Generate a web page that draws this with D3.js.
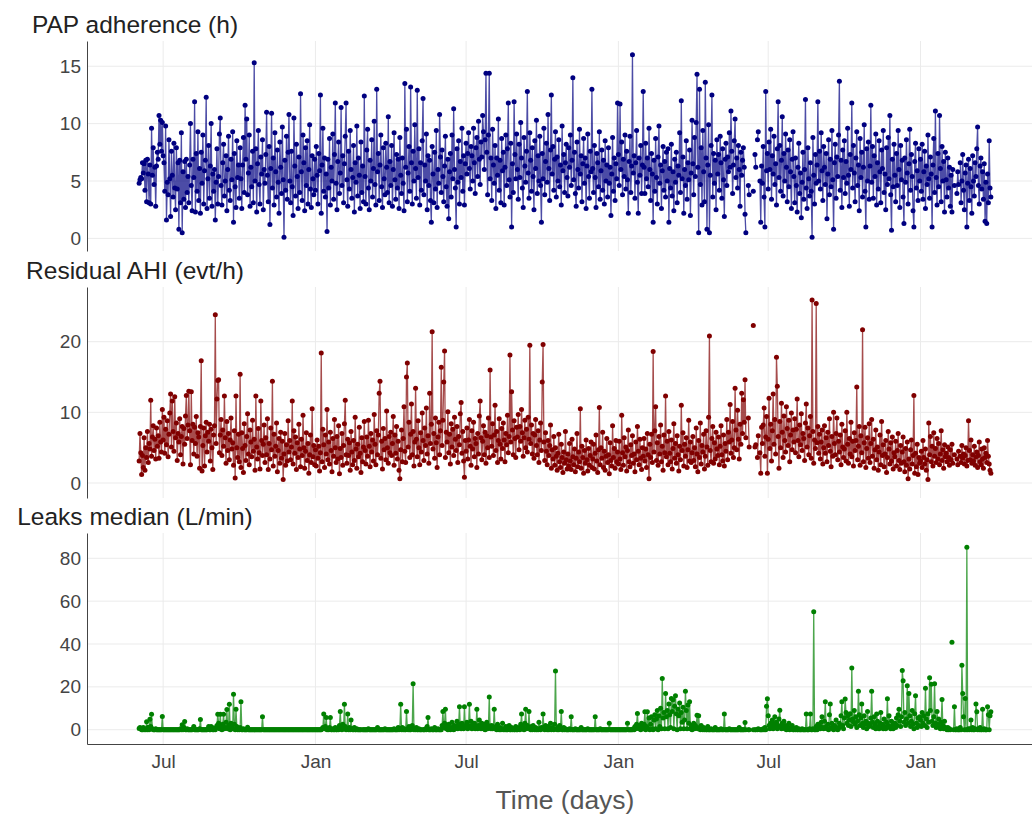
<!DOCTYPE html>
<html>
<head>
<meta charset="utf-8">
<script src="https://cdn.jsdelivr.net/npm/d3@7"></script>
<style>
  body { margin: 0; background: #fff; }
  svg { display: block; font-family: "Liberation Sans", Arial, sans-serif; }
</style>
</head>
<body>
<svg id="chart" width="1032" height="816"></svg>
<script>
// one row of daily values per month; first month starts on the 2nd
const months = ["2019-06","2019-07","2019-08","2019-09","2019-10","2019-11","2019-12",
  "2020-01","2020-02","2020-03","2020-04","2020-05","2020-06","2020-07","2020-08","2020-09","2020-10","2020-11","2020-12",
  "2021-01","2021-02","2021-03","2021-04","2021-05","2021-06","2021-07","2021-08","2021-09","2021-10","2021-11","2021-12",
  "2022-01","2022-02","2022-03"];
const firstDay = 2;

const adherence = [
  [4.8,5.1,5.3,5.2,6.6,5.7,6.5,4.2,6.8,3.2,6.9,5.6,3.1,6.4,3.0,9.6,5.5,7.9,4.7,6.2,2.8,6.3,7.5,6.9,10.7,8.2,10.3,7.6,10.1],
  [7.2,6.6,4.1,9.8,1.6,4.9,3.8,8.6,5.2,1.9,7.6,5.5,3.6,8.3,4.4,2.5,7.9,4.3,6.6,0.8,6.8,3.1,9.2,0.5,5.8,3.4,6.7,2.7,6.9,4.0,5.4],
  [3.1,6.4,10.0,4.6,2.4,6.9,5.3,11.9,2.3,7.4,4.1,9.3,3.3,6.1,2.2,7.5,4.8,9.0,3.0,5.9,6.8,12.3,2.6,5.2,8.1,3.5,6.3,10.0,2.8,5.6,4.1],
  [6.0,1.6,4.9,7.8,3.0,5.4,9.1,10.5,4.6,2.9,6.6,8.2,3.7,5.0,7.2,2.4,6.0,8.9,4.2,3.3,6.9,5.1,9.3,1.4,7.4,4.5,2.7,8.5,5.3,6.4],
  [3.5,7.9,5.2,2.6,6.4,8.8,4.0,11.6,6.9,10.4,3.8,5.7,9.0,2.8,6.2,4.5,7.6,3.1,15.3,5.0,7.8,2.3,6.5,9.4,4.7,3.0,7.1,5.6,8.6,2.5,6.0],
  [4.8,7.3,11.0,5.5,3.2,8.0,1.2,6.1,10.9,4.4,7.0,2.9,9.2,5.8,3.6,7.7,4.9,2.2,8.4,6.2,3.9,9.7,5.1,0.1,6.8,4.2,8.9,3.4,7.5,10.8],
  [5.0,3.1,7.6,4.5,2.0,10.5,6.3,3.7,8.2,5.4,2.6,7.1,4.0,12.6,5.8,3.3,9.0,6.6,2.4,7.9,4.6,8.5,3.0,6.0,9.9,4.3,2.7,7.2,5.2,3.8,6.9],
  [4.2,8.0,5.5,3.0,7.4,5.9,12.5,2.2,6.4,9.6,4.1,7.0,3.6,5.6,0.6,6.9,4.4,8.7,2.9,6.2,5.0,9.1,3.4,7.3,11.8,4.8,2.5,6.7,8.4,3.9,5.7],
  [11.4,4.6,7.2,3.1,6.5,8.9,11.8,5.1,2.8,7.6,4.3,9.4,6.0,3.5,5.3,8.1,2.3,6.6,4.9,9.8,3.7,7.0,5.5,2.6,8.4,4.0,6.3,3.2,12.4],
  [5.4,3.0,7.7,9.5,4.4,2.5,6.8,5.0,8.6,3.6,6.1,10.2,4.7,2.9,13.0,5.8,7.4,3.3,6.4,9.0,4.5,2.7,7.9,5.2,3.8,8.3,6.2,4.0,10.6,3.1,6.7],
  [4.6,8.1,2.8,6.0,9.2,5.1,3.4,7.3,4.4,6.9,2.6,8.8,5.5,3.9,7.0,4.8,2.4,13.5,6.2,9.5,3.2,5.7,8.0,4.1,13.2,6.6,3.0,7.6,5.0,9.9],
  [6.1,3.5,12.9,5.3,7.8,2.9,6.6,4.2,8.5,12.2,3.8,6.4,5.0,9.1,2.5,7.2,4.6,6.8,3.3,1.4,8.0,5.6,3.1,7.5,4.3,9.4,2.7,6.0,4.8,10.8,7.1],
  [4.0,7.7,5.4,3.2,6.3,8.9,4.5,2.8,6.9,1.7,5.8,7.4,3.6,9.0,5.2,11.3,6.0,4.4,1.0,7.8,4.9,8.5,3.0,6.7,5.3,9.6,4.1,7.2,2.9,6.5],
  [8.3,5.6,7.4,9.2,6.1,4.3,8.0,7.2,5.0,9.6,6.6,3.9,7.9,8.8,5.4,10.2,6.9,4.7,8.4,7.1,10.7,9.3,6.0,8.6,14.4,7.5,3.8,9.0,14.4,5.2,7.0],
  [3.3,9.5,6.4,4.8,8.1,2.6,7.0,5.5,10.4,4.2,6.8,3.1,8.7,5.9,7.5,2.9,6.2,9.0,4.6,7.8,11.8,5.1,3.6,8.3,1.0,6.5,4.0,11.9,7.3,5.2,9.1],
  [6.0,3.4,8.2,5.3,10.1,7.0,4.4,2.7,8.8,6.3,4.9,7.6,12.8,5.7,3.5,9.2,6.8,4.1,7.9,5.4,2.5,8.5,6.1,10.3,3.9,7.2,5.0,8.9,4.6,1.4],
  [7.4,5.2,9.6,3.8,6.7,8.3,4.9,10.8,6.1,3.3,7.7,12.5,5.6,8.0,4.2,6.9,9.3,3.6,7.1,5.0,8.6,4.5,6.4,2.9,9.8,5.9,7.3,4.0,6.6,8.2,5.3],
  [3.7,7.9,6.2,9.0,4.6,6.8,14.0,5.1,7.5,3.9,2.8,8.4,6.0,4.4,9.5,5.6,7.2,3.2,6.5,8.7,4.8,7.0,2.6,6.3,9.1,5.4,3.5,7.6,5.8,13.0],
  [6.1,4.0,8.1,5.3,2.7,7.4,6.6,4.5,9.3,3.4,5.9,7.7,4.2,6.8,3.0,8.5,5.0,6.4,3.6,7.9,4.8,6.2,2.0,5.6,8.8,4.1,7.0,3.3,6.5,5.2,11.8],
  [7.3,4.6,11.7,6.0,8.4,3.8,6.9,5.4,9.0,4.3,7.6,5.1,2.2,6.7,8.9,4.0,6.3,16.0,5.7,7.2,3.5,6.6,9.4,4.9,2.2,7.0,5.5,8.1,3.9,6.4,12.8],
  [6.2,3.9,8.3,5.2,7.0,4.5,9.6,6.0,3.3,7.4,5.6,1.4,6.8,4.1,8.7,5.3,3.0,7.1,9.8,4.8,6.4,2.6,5.9,8.0,4.2,6.7,3.6,7.5],
  [5.0,7.8,1.4,6.1,4.4,8.2,3.7,5.8,2.4,6.9,4.9,7.5,3.1,6.3,5.5,9.2,4.0,12.0,5.2,7.1,2.2,6.0,4.6,8.5,3.4,6.6,5.1,7.7,2.0,5.7,10.3],
  [6.5,3.8,8.8,5.4,10.1,14.3,6.2,0.5,13.0,4.7,7.9,2.9,9.4,5.8,3.2,13.6,7.0,0.8,6.4,9.9,0.5,5.5,8.1,12.5,3.6,7.4,4.8,6.8,2.5,8.6],
  [5.6,7.3,4.2,8.9,6.6,3.5,7.8,5.1,1.9,6.9,8.3,4.6,7.1,5.8,9.2,6.2,11.1,7.6,3.9,6.4,8.5,10.4,5.3,7.0,4.4,8.1,6.0,2.8,7.5,5.5,6.8],
  [7.9,6.2,2.1,0.5,null,null,4.6,3.8,null,null,null,null,4.1,null,7.3,6.2,null,8.6,9.3,null,5.0,1.4,6.3,4.8,8.0,3.6,1.0,12.8,5.9,7.4],
  [4.3,8.4,6.0,9.5,3.4,7.2,5.6,8.9,4.7,6.5,2.9,7.8,11.9,5.3,8.1,4.1,6.8,10.6,3.7,7.4,5.0,9.1,6.2,3.2,7.7,4.5,8.6,5.8,2.6,6.9,9.3],
  [5.4,3.1,7.0,4.6,2.3,6.2,8.3,3.9,5.7,1.8,4.9,7.5,3.4,6.0,12.1,4.4,2.6,7.9,5.2,3.7,6.6,4.1,0.1,8.8,5.5,3.0,7.3,4.8,6.4,11.9,5.0],
  [7.6,4.3,9.2,5.9,3.3,8.0,6.2,4.7,7.4,1.7,5.6,8.6,3.8,6.9,4.5,9.4,5.1,0.8,6.6,8.2,3.5,7.1,5.4,9.0,13.7,4.2,6.8,2.7,7.7,5.3],
  [8.5,3.9,6.7,4.8,9.6,5.5,2.8,7.3,6.0,11.8,4.4,8.1,5.7,3.2,7.0,9.3,4.6,6.4,2.4,8.7,5.3,7.5,3.6,6.2,9.9,4.1,1.0,7.8,5.0,8.4,3.4],
  [6.3,11.6,4.9,8.0,3.5,7.2,5.4,9.1,2.9,6.6,4.3,8.5,5.8,3.1,7.7,6.1,9.4,4.0,5.6,2.5,7.9,4.7,8.8,5.2,10.7,3.8,0.7,6.9,4.5,8.2],
  [5.5,3.2,7.4,4.6,9.4,6.0,2.7,8.1,5.1,6.8,3.6,1.3,7.0,4.9,8.6,5.7,3.0,6.5,9.5,4.2,7.3,5.4,2.4,1.0,6.7,8.3,4.4,5.9,3.3,7.8,5.0],
  [6.9,4.1,8.2,3.4,5.8,7.6,2.6,6.3,4.7,9.0,5.2,3.5,7.1,5.6,1.0,6.4,8.7,4.0,11.1,5.3,2.9,7.4,4.5,10.7,6.1,3.2,8.0,5.0,6.7,2.3,7.5],
  [5.1,3.6,7.0,4.4,6.2,2.8,5.5,2.3,6.0,null,4.6,null,null,3.9,5.8,4.7,null,6.6,3.1,5.0,7.3,4.2,2.5,5.7,6.4,1.0,4.8,6.9],
  [3.3,6.1,4.5,2.2,7.2,5.0,3.7,6.6,5.4,7.8,9.7,4.6,3.0,6.3,7.0,4.3,5.8,3.4,6.5,1.5,4.9,1.3,5.6,3.1,8.5,4.4,3.6]
];

const ahi = [
  [3.1,7.0,4.3,1.2,3.9,2.2,6.4,1.8,5.0,3.6,7.3,2.9,5.6,4.8,11.7,3.8,6.5,8.1,4.6,6.2,3.4,7.8,5.2,6.7,3.5,8.6,5.8,4.4,10.4],
  [6.1,9.3,4.2,7.6,5.4,8.8,3.7,6.9,9.9,12.6,5.1,11.6,7.3,4.5,12.2,6.4,8.5,3.2,7.0,5.8,9.1,4.0,6.6,8.0,2.7,7.7,5.5,9.5,12.4,6.3,8.2],
  [13.0,7.4,2.6,12.9,6.0,8.3,4.1,7.9,5.6,9.4,3.8,7.1,6.5,2.1,8.0,17.3,1.7,5.3,7.8,2.4,6.7,8.6,4.4,7.2,5.9,8.3,3.1,7.6,5.0,1.9,6.8],
  [8.1,23.8,5.6,11.9,14.5,14.6,4.3,6.8,9.0,3.9,7.5,5.2,12.3,6.4,2.8,8.7,4.6,7.0,3.3,6.1,9.2,4.8,5.7,2.5,7.4,0.7,12.3,5.0,3.6,6.9],
  [3.0,15.4,2.2,7.1,4.9,1.5,8.4,5.3,3.2,6.6,9.8,4.1,2.6,7.5,5.8,3.7,8.9,4.5,6.2,1.8,12.3,5.1,3.4,7.7,4.3,2.0,11.6,6.0,3.9,5.5,8.2],
  [2.9,6.4,4.0,9.1,1.9,5.6,3.4,7.8,4.7,14.4,2.4,6.9,3.8,5.2,8.5,1.6,4.6,6.3,2.8,7.2,3.5,5.9,0.5,4.1,7.0,2.5,5.4,3.1,8.8,4.4],
  [6.0,3.3,5.1,11.6,2.7,7.4,4.2,6.5,1.9,5.7,3.6,8.3,4.8,2.3,6.2,3.9,9.6,5.0,2.1,4.5,7.1,3.2,5.6,1.4,4.0,6.8,2.9,10.5,3.7,5.3,2.6],
  [4.7,2.4,6.1,3.5,5.2,1.7,4.3,18.4,3.0,7.6,5.4,2.2,6.8,4.1,10.4,3.3,5.8,2.7,7.2,4.6,1.6,6.3,3.8,9.0,5.0,2.9,6.6,3.4,8.1,1.3,4.9],
  [3.6,7.0,2.5,5.3,8.4,11.7,4.0,2.8,6.2,3.9,5.7,1.8,7.3,4.4,2.6,6.0,3.2,9.3,4.8,2.1,5.5,3.7,7.9,4.2,1.5,6.4,3.0,5.1,8.7],
  [4.6,2.7,6.5,3.8,8.9,5.2,2.3,7.0,4.4,6.1,3.1,9.7,5.5,2.6,7.4,4.0,6.8,12.7,14.4,3.5,5.9,2.0,7.7,4.7,6.3,3.3,10.2,5.0,2.8,6.6,4.3],
  [7.2,3.9,5.6,9.4,2.5,6.8,4.2,8.0,3.4,5.9,1.8,0.6,4.7,7.5,3.0,6.3,10.8,4.5,2.9,15.0,17.0,5.1,8.6,3.6,6.9,11.2,4.0,7.3,2.4,5.8],
  [13.4,6.2,3.7,8.8,5.0,2.6,7.1,4.4,9.9,6.0,3.2,7.8,5.3,10.6,4.1,6.7,2.8,12.7,5.6,8.3,21.4,4.8,7.0,3.5,9.2,5.7,2.2,6.5,8.6,4.0,7.4],
  [16.4,5.3,8.9,14.3,18.7,3.6,7.2,5.8,10.1,4.3,6.9,2.7,8.4,5.1,7.6,3.9,9.3,6.2,4.6,8.0,2.9,6.6,5.4,9.8,11.4,4.2,7.3,3.1,0.8,6.0],
  [4.5,7.8,3.4,6.1,9.0,5.2,2.5,7.4,4.8,8.6,3.7,6.3,5.6,2.2,7.0,4.1,9.5,11.6,6.4,3.3,5.9,8.1,4.0,7.2,2.8,6.7,5.0,9.2,3.6,16.0,6.5],
  [5.2,8.4,3.9,6.8,11.0,4.6,7.3,2.9,6.0,9.1,5.5,3.4,7.7,4.9,8.5,6.1,3.0,7.0,5.4,9.6,4.3,6.6,18.1,5.8,12.9,7.5,4.0,8.8,6.3,3.6,7.9],
  [6.5,9.7,4.7,8.0,5.9,10.4,7.1,3.8,6.4,8.9,5.0,7.6,4.4,9.3,6.2,19.5,5.6,8.2,4.1,7.0,3.5,6.8,9.0,5.3,4.0,7.4,2.9,6.1,8.5,4.6],
  [14.3,19.6,5.8,3.2,7.1,4.5,2.6,6.0,3.9,5.3,8.2,2.1,4.7,3.4,6.6,2.5,5.0,3.8,1.8,4.2,6.9,3.0,2.2,5.5,3.6,1.5,4.4,2.8,7.3,3.3,2.0],
  [4.1,2.4,5.6,3.1,1.9,6.2,3.7,2.6,4.8,1.6,3.5,7.0,2.3,4.4,3.0,10.5,2.1,5.2,3.6,1.4,4.6,2.8,6.1,3.3,1.7,4.9,2.5,3.9,5.8,2.2],
  [3.4,5.5,2.0,4.2,6.8,3.1,1.5,4.7,10.7,2.6,5.0,3.5,7.2,2.2,4.5,1.8,3.8,6.3,2.9,4.0,1.3,5.7,3.2,2.4,8.1,3.6,4.9,2.1,6.0,3.0,4.4],
  [2.7,5.9,3.4,1.9,9.6,4.3,2.5,6.4,3.7,5.1,1.7,4.6,7.5,3.0,2.3,5.4,3.9,6.7,2.8,4.1,1.6,5.8,3.3,8.0,4.5,2.6,6.2,3.5,1.9,5.0,3.8],
  [6.3,3.1,4.8,2.2,7.0,4.0,0.6,5.5,3.6,6.9,2.9,18.6,4.4,7.4,10.8,3.2,5.7,2.5,6.6,4.1,8.2,3.0,5.2,1.8,6.8,4.3,12.3,3.7],
  [5.9,2.6,7.3,4.2,3.0,6.1,2.0,4.9,8.4,3.5,5.6,2.8,6.7,4.0,1.7,5.2,3.3,11.0,4.6,7.1,2.4,5.5,3.8,6.4,2.2,4.7,8.9,3.1,5.8,2.9,4.3],
  [6.6,3.2,5.0,2.3,7.8,4.1,1.6,6.0,3.6,8.5,2.7,5.3,4.4,6.9,2.0,3.8,7.4,5.1,2.5,9.3,20.8,4.6,3.0,6.3,8.0,2.8,5.7,3.4,7.2,4.8],
  [3.9,6.5,2.6,5.2,8.1,4.0,3.1,6.8,2.4,5.6,4.5,9.0,3.3,7.2,5.8,11.1,4.2,6.1,8.7,3.6,5.0,13.4,7.5,4.7,10.3,6.2,3.4,8.3,5.5,12.7,7.0],
  [11.8,8.6,14.6,6.4,null,null,9.2,5.1,null,null,null,null,22.3,null,5.1,5.4,null,3.6,6.7,null,4.3,1.4,7.9,5.6,8.2,10.6,3.8,6.5,9.4,1.4],
  [6.2,12.0,4.9,8.3,3.1,7.4,12.6,5.5,9.0,4.1,17.8,13.7,6.6,2.1,8.7,5.0,11.3,7.2,3.6,9.5,6.0,4.4,10.8,7.7,5.3,8.9,3.0,6.8,9.9,4.7,7.5],
  [5.8,9.1,4.3,7.6,11.9,6.0,3.7,8.2,5.4,9.8,4.6,7.0,6.3,3.2,8.5,11.2,5.1,7.8,4.0,6.7,9.4,3.5,25.9,7.3,2.8,6.1,4.9,25.4,5.7,8.0,4.2],
  [6.9,3.4,5.8,7.5,2.7,5.0,8.1,4.2,6.4,3.0,7.2,5.3,9.1,4.5,2.3,6.6,3.8,10.0,5.6,4.0,7.0,9.2,3.3,5.9,4.4,6.8,2.6,8.3,5.1,3.6],
  [4.8,7.4,3.1,10.0,5.5,2.8,6.3,4.1,8.6,3.7,5.9,2.4,7.1,4.6,6.0,13.6,3.3,5.2,8.0,2.5,6.7,4.3,21.7,3.0,5.7,7.9,2.2,4.9,6.4,3.5,8.4],
  [2.9,5.6,9.0,3.8,6.2,2.1,4.7,7.5,3.3,5.1,1.8,4.4,6.8,2.6,8.7,3.9,5.4,2.3,4.1,6.0,1.5,3.6,7.3,4.8,2.7,5.7,3.1,6.5,2.0,4.3],
  [3.7,5.9,2.4,4.6,7.0,3.2,1.9,5.3,2.8,4.4,6.5,3.0,1.6,4.9,2.5,5.8,0.6,3.4,2.0,4.7,6.1,2.7,3.9,12.4,1.4,4.2,2.3,5.5,1.2,3.6,2.8],
  [3.1,4.5,2.2,6.0,3.6,2.7,4.8,1.8,3.3,0.5,8.5,4.0,6.6,3.0,5.2,2.4,7.1,3.8,4.9,2.9,6.3,3.4,5.6,2.6,4.1,7.4,3.2,4.7,2.1,5.4,3.7],
  [4.2,3.0,5.1,3.6,2.5,4.7,3.3,5.5,2.8,null,4.0,null,null,3.4,2.6,4.5,null,3.8,2.9,5.3,3.5,4.1,2.7,3.9,5.0,2.4,3.2,8.8],
  [4.6,3.3,6.1,2.8,4.0,3.1,5.2,2.5,3.7,4.4,2.2,3.9,5.8,3.0,2.6,4.8,3.4,2.1,5.0,3.6,4.2,2.9,6.0,3.8,2.7,1.8,1.4]
];

const leaks = [
  [0.6,1.0,0.5,0,0,1.0,0,0.5,0,3.7,0,1.2,0,4.9,1.5,7.2,0.5,0,0,0,0.5,0,0,0,0,0,0,0,6.2],
  [0,0,0,0,0,0,0,0,0,0,0,0,0,0,0,0,0,0,0,0,0,0.5,0,2.3,0,1.0,3.8,0,0,0.5,0],
  [0,0,0,0,0,0.5,1.5,0,0,0,0,0,0,0.5,4.8,0,0,0,0,0,0,0,0,0.5,1.5,0,0,1.5,1.0,0,0],
  [0.5,0,1.0,2.0,7.2,3.0,0.5,7.2,1.5,0,2.5,7.2,0.5,1.0,3.5,9.4,0.5,2.0,11.9,0,3.0,1.0,0.5,16.6,2.5,0,9.5,1.5,0,0.5],
  [0,1.0,13.1,0,0,0.5,0,0,0,0,1.2,0,0,0,0,0,0,0,0,0,0,0,0,0,0,0,0,0,6.1,0,0],
  [0,0,0,0,0,0,0,0,0,0,0,0,0,0,0,0,0,0,0,0,0,0,0,0,0,0,0,0,0,0],
  [0,0,0,0,0,0,0,0,0,0,0,0,0,0,0,0,0,0,0,0,0,0,0,0,0,0,0,0,0,0,0],
  [0,0,0,0,0,0,0,0,0.5,1.0,7.3,0.5,1.5,5.7,0,0.5,0,1.0,5.7,0,0,0.5,0,0,1.0,0,0,0.5,0,2.0,8.5],
  [1.0,0,2.5,0.5,11.9,1.5,0,0.5,7.3,0,1.0,0,4.5,0.5,0,0,1.0,0,0,0.5,0,0,0,0,0,null,0,0,0],
  [0,0,0,0,0.5,0,0,0,0,0,0,0,0,0,0,1.0,0,0,0,0,0,0,0,0,0.5,0,0,0,0,0,0],
  [0,0,0,0,0.5,0,0,0,0,1.0,0,0.5,11.9,0,1.0,0,0.5,0,0,8.5,0.5,0,1.5,0,0,0.5,2.0,21.5,0,0.5],
  [0,1.0,0,0,0.5,0,0,0,null,0,0,0,0.5,0,1.5,5.7,0,0,0,0.5,0,0,0,1.0,0,0,0,0.5,0,0,0],
  [0,2.0,8.5,1.0,3.0,9.5,0.5,1.5,0,2.5,0.5,0,1.0,3.5,0.5,0,2.0,0.5,1.0,4.0,0.5,2.5,10.7,1.5,0.5,3.0,1.0,0.5,10.7,2.0],
  [1.0,3.5,0.5,2.0,11.9,1.5,4.0,0.5,2.5,1.0,3.0,0.5,1.5,9.5,0.5,2.0,4.5,1.0,0.5,3.0,1.5,0.5,2.5,0,1.0,3.5,0.5,2.0,15.3,1.0,0.5],
  [2.0,0.5,1.0,9.5,0.5,1.5,0,2.5,0.5,0,1.0,0,0.5,3.0,0,0.5,0,1.5,0,0,0.5,2.0,0,0,1.0,0,0.5,0,0,1.5,0],
  [0,0.5,1.0,0,2.5,7.3,0.5,1.5,0,3.0,9.5,0.5,2.0,1.0,8.5,0.5,0,1.5,0,2.0,0.5,0,1.0,0,0.5,0,3.5,0.5,0,1.0],
  [0.5,7.3,1.0,0,2.0,0.5,0,1.5,0,0.5,3.0,0,1.0,0.5,0,2.5,27.4,0.5,0,1.0,0,2.0,0.5,8.5,0,0,1.0,0,0.5,0,0],
  [0,0,0.5,0,6.0,0,0,0,0,0.5,0,0,0,0,0,0,1.0,0,0,0,0,0,0,0,0.5,0,0,0,0,0],
  [0,0,0,6.0,0,0,0,0,0,0.5,0,0,0,0,0,0,0,0,0,0,3.0,0,0,0,0,0,0,0,0,0,0],
  [0,0,0,0,0,0,0,0,0,0,0,3.0,0,0,0,0,0,0,0.5,0,1.5,0.5,2.5,7.6,1.0,0.5,2.0,0,3.0,1.0,0.5],
  [2.5,8.4,0,1.5,8.4,0.5,5.5,0,2.5,6.0,0.5,0,4.5,7.0,0.5,5.0,9.0,0,6.5,1.5,10.0,0.5,23.9,5.5,8.0,0.5,16.9,6.0],
  [9.0,0.5,12.0,7.0,1.0,14.6,8.5,14.0,0.5,11.0,15.8,7.5,0,9.5,6.5,12.5,0.5,8.0,3.5,10.5,0.5,4.5,18.0,9.0,0.5,11.5,3.0,13.0,0.5,2.0,0],
  [1.5,3.0,0.5,2.0,1.0,6.8,0.5,6.5,1.0,0,2.0,0.5,0,1.0,0,0.5,0,0,1.5,0,0,0,0.5,0,0,0,0,1.0,0,0],
  [0,0,0,0,0.5,0,0,0,7.3,0,0,0,0,0,0.5,0,0,0,0,0,0,0,0,0,0,0,1.0,0,0,0,0],
  [0,0,3.4,0,null,null,0,0,null,null,null,null,0,null,0,0,null,0,0.5,null,0,0,0,0,0.5,0,1.0,0,11.0,14.4],
  [6.5,2.0,0.5,3.0,1.5,4.5,0.5,2.5,6.0,1.0,3.5,0.5,2.0,5.0,9.1,1.5,0.5,3.0,1.0,4.0,0.5,2.0,0,1.5,0.5,3.0,0,1.0,0.5,2.0,0],
  [0,0.5,0,1.0,0,0,0.5,0,0,0,0.5,0,0,0,0,7.3,0,0,0,0.5,7.3,0,0,0.5,55.0,0,0,1.5,0,2.5,0.5],
  [2.0,0.5,3.5,6.0,1.0,0.5,4.0,13.0,1.5,0.5,2.5,0,7.0,12.0,1.0,3.0,0.5,0,2.0,0.5,4.5,1.0,0,0.5,3.0,1.5,6.5,13.0,2.0,0.5],
  [5.5,14.3,8.0,3.0,6.5,2.0,4.5,7.5,1.5,28.8,5.0,3.5,9.0,2.5,6.0,1.0,4.0,18.0,7.0,2.0,5.5,12.0,3.0,1.0,6.5,2.5,4.0,0.5,8.5,3.0,1.5],
  [2.0,5.5,18.0,3.5,1.0,6.0,2.5,0.5,7.3,4.0,1.5,0.5,3.0,8.0,1.0,2.5,0.5,5.0,1.5,0.5,3.5,14.4,2.0,6.5,1.0,0.5,4.0,2.0,0.5,3.0],
  [3.0,1.0,5.5,2.0,7.0,9.6,4.0,1.5,6.0,27.6,22.8,3.5,8.0,2.0,5.0,20.5,3.0,16.9,6.5,1.5,4.0,9.0,2.5,0.5,7.5,15.8,3.0,1.0,5.5,2.0,6.0],
  [4.5,1.5,8.0,3.0,6.5,2.0,19.4,5.0,1.0,7.5,3.5,24.2,9.0,21.2,4.0,2.0,6.0,21.5,3.0,1.0,8.5,2.5,5.0,1.5,0.5,3.5,14.1,2.0,0.5,4.0,1.0],
  [0.5,0,1.0,0,0.5,0,null,40.8,null,0,10.7,0,0,0.5,0,0,0,1.0,0,30.1,16.9,6.0,0,14.6,0,85.1,0,0.5],
  [0,0.5,4.5,0,1.0,0,0,0.5,12.0,8.4,0,0.5,0,1.0,0,0,9.5,0,0.5,0,0,0,10.7,7.0,0,6.5,8.4]
];

const xDomain = ["2019-03-31", "2022-05-29"];
const xTickDates = ["2019-07-01", "2020-01-01", "2020-07-01", "2021-01-01", "2021-07-01", "2022-01-01"];
const xTickLabels = ["Jul", "Jan", "Jul", "Jan", "Jul", "Jan"];
const xTitle = "Time (days)";

const titles = ["PAP adherence (h)", "Residual AHI (evt/h)", "Leaks median (L/min)"];
const yTicks = [[0, 5, 10, 15], [0, 10, 20], [0, 20, 40, 60, 80]];
const yRanges = [[-1.1, 17.2], [-2.12, 27.74], [-6.67, 91.8]];
const colors = ["#000080", "#800000", "#008000"];

const svg = d3.select("#chart");
const width = 1032;
const margin = { left: 87, right: 1043 };
const panelBox = [[41, 251], [287, 498], [533, 744]];
const font = '"Liberation Sans", Arial, sans-serif';

const parse = d3.utcParse("%Y-%m-%d");
const x = d3.scaleUtc()
  .domain(xDomain.map(parse))
  .range([margin.left, margin.right]);

function toPoints(rows) {
  const pts = [];
  rows.forEach((row, i) => {
    const [yy, mm] = months[i].split("-").map(Number);
    const start = i === 0 ? firstDay : 1;
    row.forEach((v, j) => {
      pts.push({ date: new Date(Date.UTC(yy, mm - 1, start + j)), v: v });
    });
  });
  return pts;
}

const series = [adherence, ahi, leaks].map(toPoints);

series.forEach((data, p) => {
  const [top, bottom] = panelBox[p];
  const y = d3.scaleLinear().domain(yRanges[p]).range([bottom, top]);
  const g = svg.append("g");

  // grid
  g.append("g")
    .selectAll("line")
    .data(yTicks[p])
    .join("line")
    .attr("x1", margin.left)
    .attr("x2", width)
    .attr("y1", (d) => y(d))
    .attr("y2", (d) => y(d))
    .attr("stroke", "#ebebeb")
    .attr("stroke-width", 1);

  g.append("g")
    .selectAll("line")
    .data(xTickDates.map(parse))
    .join("line")
    .attr("x1", (d) => x(d))
    .attr("x2", (d) => x(d))
    .attr("y1", top)
    .attr("y2", bottom)
    .attr("stroke", "#ebebeb")
    .attr("stroke-width", 1);

  // y axis
  const yAxis = g.append("g")
    .attr("transform", `translate(${margin.left},0)`)
    .call(d3.axisLeft(y).tickValues(yTicks[p]).tickSize(0).tickPadding(6));
  yAxis.select(".domain").attr("stroke", "#444").attr("stroke-width", 1);
  yAxis.selectAll("text")
    .attr("fill", "#444")
    .style("font-size", "19px")
    .style("font-family", font);

  // title
  svg.append("text")
    .attr("x", 135)
    .attr("y", top - 8)
    .attr("text-anchor", "middle")
    .attr("fill", "#222")
    .style("font-size", "24.5px")
    .text(titles[p]);

  // line + markers
  const line = d3.line()
    .defined((d) => d.v != null)
    .x((d) => x(d.date))
    .y((d) => y(d.v));

  g.append("path")
    .datum(data)
    .attr("fill", "none")
    .attr("stroke", colors[p])
    .attr("stroke-opacity", 0.7)
    .attr("stroke-width", 1.3)
    .attr("d", line);

  g.append("g")
    .selectAll("circle")
    .data(data.filter((d) => d.v != null))
    .join("circle")
    .attr("cx", (d) => x(d.date))
    .attr("cy", (d) => y(d.v))
    .attr("r", 2.5)
    .attr("fill", colors[p]);

  if (p === 2) {
    const xAxis = g.append("g")
      .attr("transform", `translate(0,${bottom})`)
      .call(d3.axisBottom(x)
        .tickValues(xTickDates.map(parse))
        .tickFormat((d, i) => xTickLabels[i])
        .tickSize(0)
        .tickPadding(11));
    xAxis.select(".domain").attr("stroke", "#444").attr("stroke-width", 1);
    xAxis.selectAll("text")
      .attr("fill", "#444")
      .style("font-size", "19px")
      .style("font-family", font);

    svg.append("text")
      .attr("x", (margin.left + margin.right) / 2)
      .attr("y", 809)
      .attr("text-anchor", "middle")
      .attr("fill", "#555")
      .style("font-size", "26.5px")
      .text(xTitle);
  }
});
</script>
</body>
</html>
